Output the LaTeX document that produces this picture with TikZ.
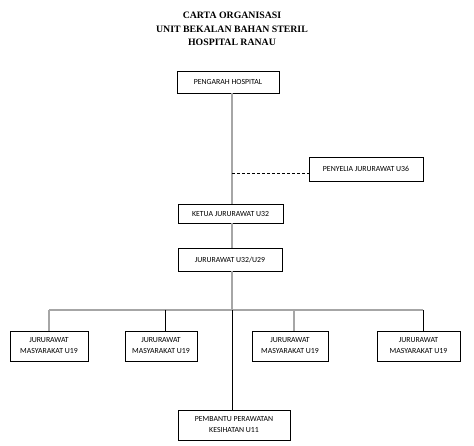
\documentclass[tikz,border=0pt]{standalone}
\usepackage{fontspec}
\setmainfont{Carlito}
\newfontfamily\titlefont{Liberation Serif}
\definecolor{lgray}{HTML}{A6A6A6}
\begin{document}
\begin{tikzpicture}[x=1pt,y=-1pt,
  box/.style={draw=black,line width=0.8pt,inner sep=0pt,align=center,font=\fontsize{7.8}{11}\selectfont},
  gline/.style={draw=lgray,line width=1.3pt},
  bline/.style={draw=black,line width=1pt},
  ttl/.style={font=\titlefont\bfseries\fontsize{9.8}{13.5}\selectfont,align=center,inner sep=0pt}]
\useasboundingbox (0,0) rectangle (474,446);
\node[ttl] (title) at (232,29) {CARTA ORGANISASI\\UNIT BEKALAN BAHAN STERIL\\HOSPITAL RANAU};
\node[box,minimum width=102pt,minimum height=22pt] (peng) at (228,82) {PENGARAH HOSPITAL};
\node[box,minimum width=114pt,minimum height=24pt] (peny) at (366,169) {PENYELIA JURURAWAT U36};
\node[box,minimum width=105pt,minimum height=19pt] (ket) at (230.5,213.5) {KETUA JURURAWAT U32};
\node[box,minimum width=104pt,minimum height=23pt] (jur) at (230,259.5) {JURURAWAT U32/U29};
\node[box,minimum width=78pt,minimum height=30pt] (m1) at (49,346) {JURURAWAT\\MASYARAKAT U19};
\node[box,minimum width=72pt,minimum height=30pt] (m2) at (161,346) {JURURAWAT\\MASYARAKAT U19};
\node[box,minimum width=76pt,minimum height=30pt] (m3) at (290,346) {JURURAWAT\\MASYARAKAT U19};
\node[box,minimum width=83pt,minimum height=30pt] (m4) at (418.5,346) {JURURAWAT\\MASYARAKAT U19};
\node[box,minimum width=112pt,minimum height=30pt] (pb) at (234,425) {PEMBANTU PERAWATAN\\KESIHATAN U11};
\coordinate (L) at (232,0);
\coordinate (H) at (0,310);
\coordinate (D) at (232,173);
\coordinate (d1) at (49,0);
\coordinate (d2) at (165,0);
\coordinate (d3) at (294,0);
\coordinate (d4) at (423,0);
\draw[gline] (peng.south -| L) -- (ket.north -| L);
\draw[gline] (ket.south -| L) -- (jur.north -| L);
\draw[gline] (jur.south -| L) -- (H -| L);
\draw[black,line width=0.8pt,dash pattern=on 3pt off 2pt] (D) -- (D -| peny.west);
\draw[gline] (H -| d1) -- (H -| d4);
\draw[gline] (H -| d1) -- (m1.north -| d1);
\draw[bline] (H -| d2) -- (m2.north -| d2);
\draw[gline] (H -| d3) -- (m3.north -| d3);
\draw[bline] (H -| d4) -- (m4.north -| d4);
\draw[bline] (H -| L) -- (pb.north -| L);
\end{tikzpicture}
\end{document}
